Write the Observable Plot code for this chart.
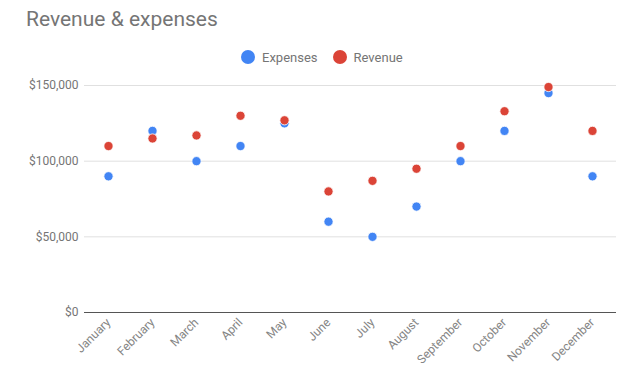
<!DOCTYPE html>
<html>
<head>
<meta charset="utf-8">
<script src="https://cdn.jsdelivr.net/npm/d3@7"></script>
<script src="https://cdn.jsdelivr.net/npm/@observablehq/plot@0.6"></script>
<style>
  html, body { margin: 0; padding: 0; background: #fff; }
  body { width: 640px; height: 379px; font-family: Roboto, "Noto Sans", sans-serif; overflow: hidden; }
  #head { position: relative; height: 70px; }
  #title { position: absolute; left: 26px; top: 6px; font-size: 21px; line-height: 26px; color: #757575; }
  #legend { position: absolute; left: 241px; top: 49px; height: 16px; display: flex; align-items: center; font-size: 13px; color: #757575; }
  .sw { width: 14px; height: 14px; border-radius: 50%; display: inline-block; margin-right: 7px; }
  .item { display: flex; align-items: center; margin-right: 15px; }
</style>
</head>
<body>
<div id="head">
  <div id="title">Revenue &amp; expenses</div>
  <div id="legend"></div>
</div>
<div id="chart"></div>
<script>
const months = ["January","February","March","April","May","June","July","August","September","October","November","December"];
const expenses = [90000,120000,100000,110000,125000,60000,50000,70000,100000,120000,145000,90000];
const revenue  = [110000,115000,117000,130000,127000,80000,87000,95000,110000,133000,149000,120000];
const seriesNames = ["Expenses","Revenue"];
const seriesColors = ["#4285f4","#db4437"];
const yTicks = [0,50000,100000,150000];

const legend = document.getElementById("legend");
seriesNames.forEach((n,i) => {
  const it = document.createElement("span");
  it.className = "item";
  it.innerHTML = `<span class="sw" style="background:${seriesColors[i]}"></span><span>${n}</span>`;
  legend.appendChild(it);
});

const data = [];
months.forEach((m,i) => data.push({month:m, series:"Expenses", value:expenses[i]}));
months.forEach((m,i) => data.push({month:m, series:"Revenue", value:revenue[i]}));

const chart = Plot.plot({
  width: 640,
  height: 309,
  marginTop: 15,
  marginBottom: 67,
  marginLeft: 84,
  marginRight: 24,
  style: {fontFamily: "Roboto, sans-serif", fontSize: "12px", color: "#757575", background: "#fff"},
  x: {type: "point", domain: months, padding: 0.5, label: null},
  y: {domain: [0,150000], label: null},
  color: {domain: seriesNames, range: seriesColors},
  marks: [
    Plot.ruleY(yTicks.filter(d => d > 0), {stroke: "#e0e0e0", strokeWidth: 1}),
    Plot.ruleY([0], {stroke: "#555", strokeWidth: 1.2}),
    Plot.axisY({ticks: yTicks, tickFormat: d3.format("$,"), tickSize: 0, tickPadding: 6, label: null, fill: "#757575", fontSize: 12}),
    Plot.axisX({tickRotate: -45, tickSize: 0, tickPadding: 8, label: null, fill: "#858585", fontSize: 12}),
    Plot.dot(data, {x: "month", y: "value", fill: "series", r: 4.6, stroke: "#fff", strokeWidth: 0.8})
  ]
});
document.getElementById("chart").appendChild(chart);
</script>
</body>
</html>
